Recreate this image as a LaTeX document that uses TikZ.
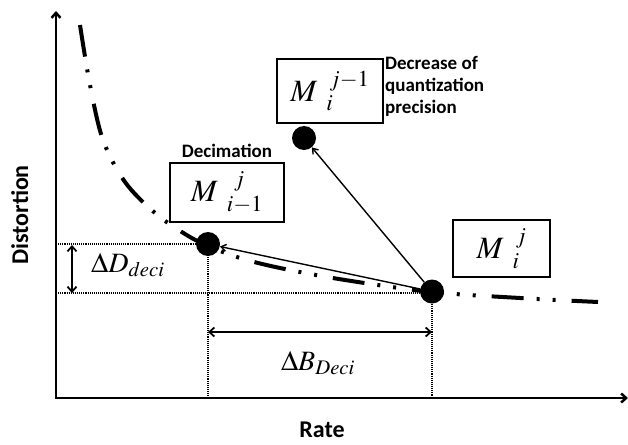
\documentclass[tikz,border=0pt]{standalone}
\usepackage{mathptmx}
\usepackage{fontspec}
\newfontfamily\carl{Carlito}
\usetikzlibrary{arrows.meta}
\tikzset{
 axisline/.style={line width=2.5pt, -{Straight Barb[length=5pt,width=9pt]}},
 dotline/.style={line width=1.1pt, densely dotted},
 ptdot/.style={circle, fill=black, inner sep=0pt, minimum size=24pt},
 mbox/.style={draw, line width=1.2pt, inner sep=0pt, font=\fontsize{31}{36}\selectfont},
 conn/.style={line width=1.4pt, -{Straight Barb[length=5pt,width=7pt]}},
 dimarrow/.style={line width=1.8pt, {Straight Barb[length=5pt,width=9pt]}-{Straight Barb[length=5pt,width=9pt]}},
 lbl/.style={font=\carl\bfseries\fontsize{19}{22}\selectfont, inner sep=0pt},
 axlbl/.style={font=\carl\bfseries\fontsize{24}{28}\selectfont, inner sep=0pt},
 rdcurve/.style={line width=4pt, dash pattern=on 32pt off 13pt on 3pt off 13pt on 3pt off 16pt},
 mathlbl/.style={font=\fontsize{28}{32}\selectfont, inner sep=0pt},
}
\begin{document}
\begin{tikzpicture}[x=1pt,y=-1pt]
\useasboundingbox (0,0) rectangle (628,444);
% axes
\coordinate (O) at (56,398);
\coordinate (O2) at (54.8,398);
\coordinate (Ytop) at (56,11);
\coordinate (Xend) at (628,398);
\draw[axisline] (O) -- (Ytop);
\draw[axisline] (O2) -- (Xend);
% point centres
\coordinate (a) at (208,244);
\coordinate (b) at (432,291.5);
\coordinate (c) at (304,138);
% dotted guides
\coordinate (dA) at (56,244);
\coordinate (dB) at (56,293);
\coordinate (dBe) at (432,293);
\coordinate (fA) at (208,398);
\coordinate (fB) at (432,398);
\draw[dotline] (dA) -- (a);
\draw[dotline] (dB) -- (dBe);
\draw[dotline] (a) -- (fA);
\draw[dotline] (b) -- (fB);
% rate-distortion curve
\draw[rdcurve] plot[smooth, tension=0.55] coordinates {(80,25) (90,85) (103,140) (125,182) (155,213) (185,234) (208,246) (240,258) (280,268) (345,280) (432,292) (520,298) (598,302)};
% points
\node[ptdot] (A) at (a) {};
\node[ptdot] (B) at (b) {};
\node[ptdot] (C) at (c) {};
% connectors
\draw[conn] (B) -- (C);
\draw[conn] (B) -- (A);
% dimension arrows
\coordinate (d1) at (72,245);
\coordinate (d2) at (72,293);
\draw[dimarrow] (d1) -- (d2);
\coordinate (b1) at (208,332);
\coordinate (b2) at (432,332);
\draw[dimarrow] (b1) -- (b2);
\node[mathlbl, anchor=base west] (lD) at (91,272) {$\Delta D_{deci}$};
\node[mathlbl, anchor=base] (lB) at (318,370) {$\Delta B_{Deci}$};
% boxes
\node[mbox, minimum width=106pt, minimum height=64pt] (M1) at (330,91) {$M\hspace{9pt}{}^{\hspace{3pt}j-1}_{i}$};
\node[mbox, minimum width=114pt, minimum height=59pt] (M2) at (227,192.5) {$M\hspace{9pt}{}^{\hspace{7pt}j}_{i-1}$};
\node[mbox, minimum width=97pt, minimum height=57pt] (M3) at (501.5,248.5) {$M\hspace{9pt}{}^{\hspace{3pt}j}_{i}$};
% labels
\node[lbl, anchor=base] (dec) at (227,157) {Decimation};
\node[lbl, anchor=base west] (q1) at (385,69) {Decrease of};
\node[lbl, anchor=base west] (q2) at (385,91) {quantization};
\node[lbl, anchor=base west] (q3) at (385,113) {precision};
\node[axlbl, rotate=90, anchor=base] (yl) at (28,215) {Distortion};
\node[axlbl, anchor=base] (xl) at (322,437) {Rate};
\end{tikzpicture}
\end{document}
